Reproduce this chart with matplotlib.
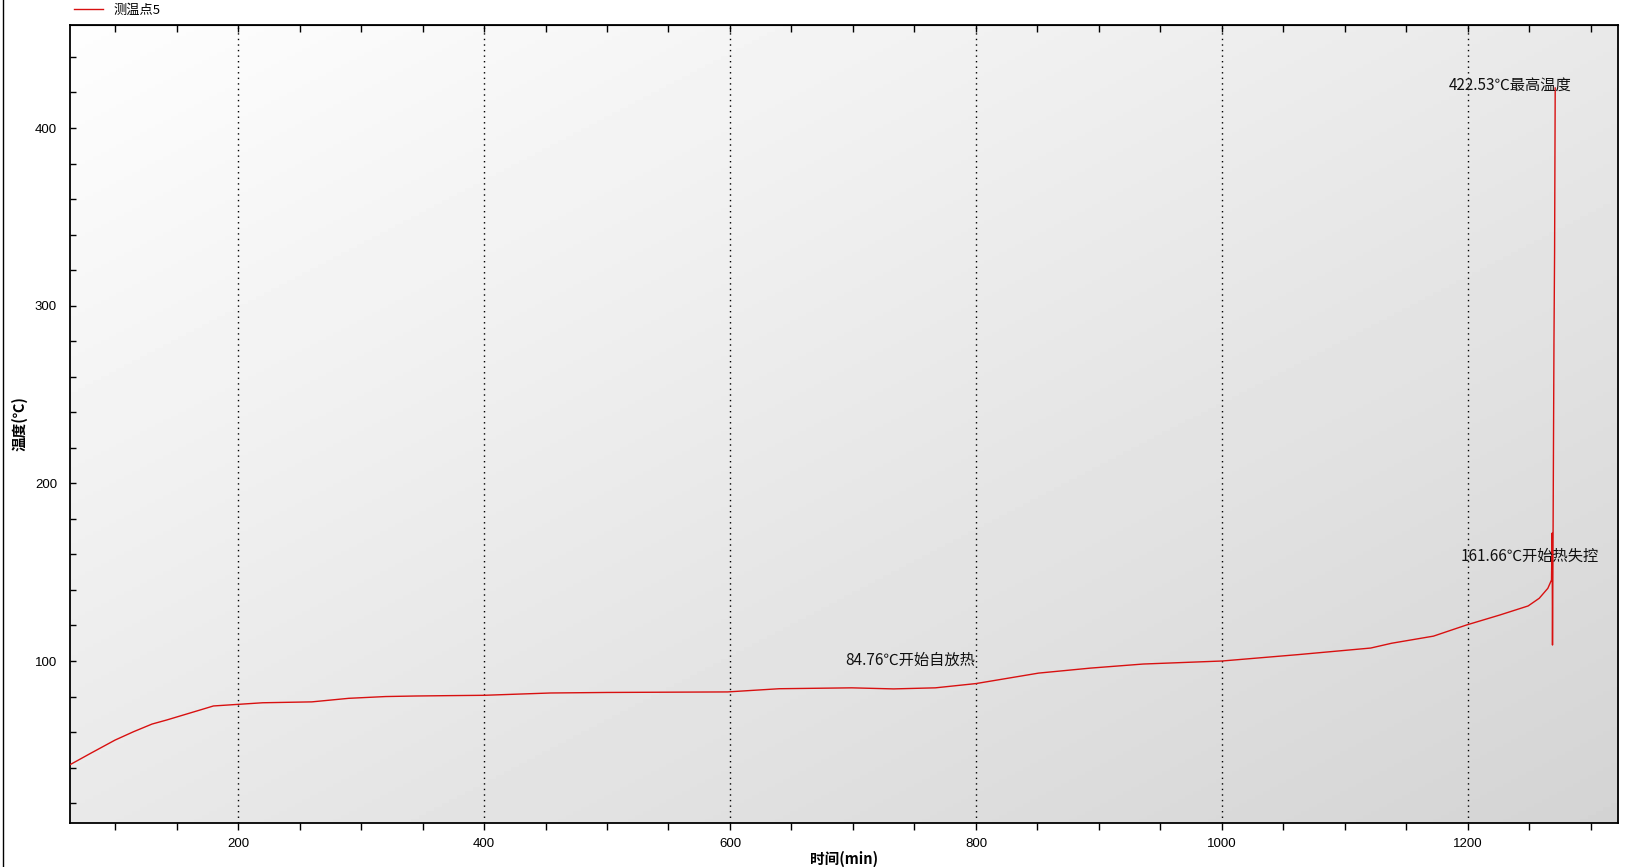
import numpy as np
import matplotlib
matplotlib.use('Agg')
import matplotlib.pyplot as plt
from matplotlib.lines import Line2D
from matplotlib.ticker import MultipleLocator

plt.rcParams['font.family'] = ['Noto Sans CJK SC', 'DejaVu Sans']

# data (time in min, temperature in C)
time_min = [63, 80, 100, 115, 130, 142, 155, 169, 180, 200, 220, 260, 290, 320,
            344, 370, 400, 454, 500, 598, 640, 699, 733, 767, 800, 851, 893,
            936, 1000, 1062, 1121, 1138, 1172, 1199, 1226, 1249, 1258, 1265,
            1268, 1268.5, 1268.8, 1269.2, 1270, 1270.5, 1271]
temp_c = [41.5, 48, 55.5, 60.2, 64.5, 66.8, 69.5, 72.4, 74.7, 75.6, 76.5, 77,
          79, 80, 80.3, 80.5, 80.7, 82, 82.3, 82.6, 84.4, 84.9, 84.3, 84.9,
          87.3, 93.2, 96, 98.3, 100, 103.6, 107.3, 110, 114, 120.3, 125.9,
          131, 135.3, 140.9, 145.6, 172, 109, 161.66, 280, 330, 422.53]
series_name = '测温点5'

# annotated points
note_x = [740, 1269, 1271]
note_y = [84.76, 161.66, 422.53]
note_text = ['84.76℃开始自放热', '161.66℃开始热失控', '422.53℃最高温度']
note_offset = [(8, 28), (-23, -5), (-45, 3)]

fig = plt.figure(figsize=(16.29, 8.67), dpi=100)
ax = fig.add_axes([0.0427, 0.0507, 0.9505, 0.9205])

# grey gradient background, light top-left to darker bottom-right
gx, gy = np.meshgrid(np.linspace(0, 1, 200), np.linspace(0, 1, 200))
grad = 0.995 - 0.165 * (gx + gy) / 2
ax.imshow(grad, extent=[0, 1, 0, 1], transform=ax.transAxes, aspect='auto',
          cmap='gray', vmin=0, vmax=1, zorder=0, origin='upper')

ax.plot(time_min, temp_c, color='#d81010', lw=1.0, label=series_name, zorder=3)

for x, y, t, off in zip(note_x, note_y, note_text, note_offset):
    ax.annotate(t, xy=(x, y), xytext=off, textcoords='offset pixels',
                ha='center', va='center', fontsize=11, color='#111111', zorder=4)

ax.set_xlim(63, 1322)
ax.set_ylim(8.8, 458)
ax.xaxis.set_major_locator(MultipleLocator(200))
ax.xaxis.set_minor_locator(MultipleLocator(50))
ax.yaxis.set_major_locator(MultipleLocator(100))
ax.yaxis.set_minor_locator(MultipleLocator(20))
ax.tick_params(axis='x', which='both', direction='out', length=5, width=1,
               labelsize=9.5, pad=6)
ax.tick_params(axis='y', which='both', direction='in', length=4, width=1,
               labelsize=9.5, pad=9)
for lab in ax.get_xticklabels() + ax.get_yticklabels():
    lab.set_family(['Liberation Sans', 'DejaVu Sans'])

# inward ticks along the top edge
top = ax.secondary_xaxis('top')
top.xaxis.set_major_locator(MultipleLocator(50))
top.tick_params(direction='in', length=5, width=1, labeltop=False)

ax.xaxis.grid(True, which='major', linestyle=(0, (1, 3)), color='black', lw=1)
for s in ax.spines.values():
    s.set_linewidth(1.3)

fig.text(844 / 1629, 1 - 859 / 867, '时间(min)', ha='center', va='center',
         fontsize=10.5, fontweight='bold')
fig.text(19 / 1629, 1 - 424 / 867, '温度(℃)', ha='center', va='center',
         fontsize=10.5, fontweight='bold', rotation=90)

fig.legend(loc='upper left', bbox_to_anchor=(62 / 1629, 1 + 8 / 867),
           frameon=False, fontsize=9.5, handlelength=2.2, handletextpad=0.8)

fig.add_artist(Line2D([3 / 1629] * 2, [0, 1], transform=fig.transFigure,
                      color='black', lw=1))

fig.savefig('out.png', dpi=100)
